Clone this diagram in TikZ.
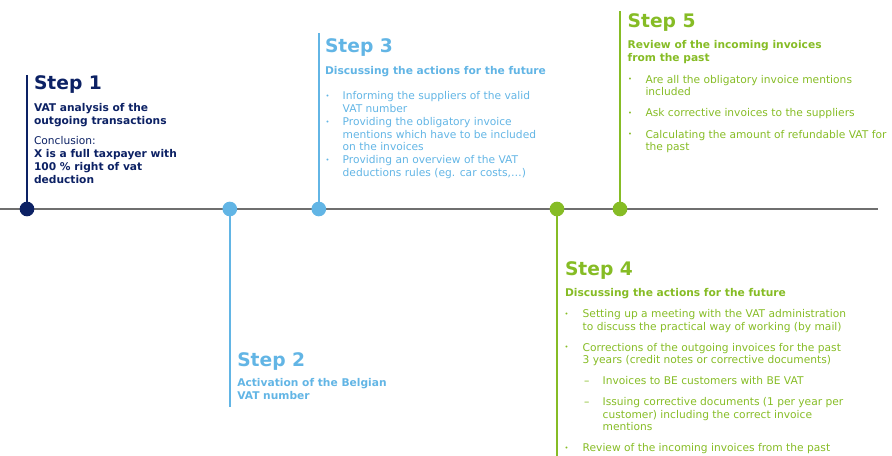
\documentclass[tikz,border=0pt]{standalone}
\usepackage{fontspec}
\setmainfont{DejaVu Sans}
\definecolor{navy}{HTML}{0C2164}
\definecolor{lblue}{HTML}{62B5E5}
\definecolor{vgreen}{HTML}{86BC25}
\definecolor{tlgray}{HTML}{6F6F6F}
\begin{document}
\begin{tikzpicture}[x=0.75pt,y=-0.75pt,
  every node/.style={inner sep=0pt,outer sep=0pt},
  ln/.style={anchor=base west,font=\fontsize{8}{9}\selectfont},
  lnb/.style={anchor=base west,font=\fontsize{8}{9}\selectfont\bfseries},
  head/.style={anchor=base west,font=\fontsize{14}{16}\selectfont\bfseries},
  bul/.style={anchor=center,font=\fontsize{5}{5}\selectfont},
  dotm/.style={circle,minimum size=11pt,fill=#1},
  stem/.style={draw=#1,line width=1.6pt},
  timeline/.style={draw=tlgray,line width=1.5pt}
]
\path[use as bounding box] (0,0) rectangle (892,456);

% timeline
\coordinate (tl0) at (0,209);
\coordinate (tl1) at (878,209);
\draw[timeline] (tl0) -- (tl1);

% dot positions and stem ends
\coordinate (c1) at (27,209);
\coordinate (c2) at (229.8,209);
\coordinate (c3) at (318.8,209);
\coordinate (c4) at (557,209);
\coordinate (c5) at (620,209);
\coordinate (e1) at (27,75);
\coordinate (e2) at (229.8,407);
\coordinate (e3) at (318.8,33);
\coordinate (e4) at (557,456);
\coordinate (e5) at (620,11.5);

\draw[stem=navy]   (e1) -- (c1);
\draw[stem=lblue]  (e2) -- (c2);
\draw[stem=lblue]  (e3) -- (c3);
\draw[stem=vgreen] (e4) -- (c4);
\draw[stem=vgreen] (e5) -- (c5);

\node[dotm=navy]   (d1) at (c1) {};
\node[dotm=lblue]  (d2) at (c2) {};
\node[dotm=lblue]  (d3) at (c3) {};
\node[dotm=vgreen] (d4) at (c4) {};
\node[dotm=vgreen] (d5) at (c5) {};

% Step 1
\begin{scope}[text=navy]
\node[head] (s1h) at (34,89.3) {Step 1};
\node[lnb] (s1a) at (34,112) {VAT analysis of the};
\node[lnb] (s1b) at (34,124.5) {outgoing transactions};
\node[ln]  (s1c) at (34,145) {Conclusion:};
\node[lnb] (s1d) at (34,157.7) {X is a full taxpayer with};
\node[lnb] (s1e) at (34,170.5) {100 \% right of vat};
\node[lnb] (s1f) at (34,183.3) {deduction};
\end{scope}

% Step 2
\begin{scope}[text=lblue]
\node[head] (s2h) at (237.3,366) {Step 2};
\node[lnb] (s2a) at (237.3,386.5) {Activation of the Belgian};
\node[lnb] (s2b) at (237.3,399.5) {VAT number};
\end{scope}

% Step 3
\begin{scope}[text=lblue]
\node[head] (s3h) at (325,52.5) {Step 3};
\node[lnb] (s3a) at (325,74.5) {Discussing the actions for the future};
\node[bul] (s3b1) at (327.5,96.5) {•};
\node[bul] (s3b2) at (327.5,122.5) {•};
\node[bul] (s3b3) at (327.5,160.8) {•};
\node[ln] (s3c) at (342.7,99.7) {Informing the suppliers of the valid};
\node[ln] (s3d) at (342.7,112.3) {VAT number};
\node[ln] (s3e) at (342.7,125.7) {Providing the obligatory invoice};
\node[ln] (s3f) at (342.7,138.3) {mentions which have to be included};
\node[ln] (s3g) at (342.7,151) {on the invoices};
\node[ln] (s3i) at (342.7,164) {Providing an overview of the VAT};
\node[ln] (s3j) at (342.7,176.7) {deductions rules (eg. car costs,…)};
\end{scope}

% Step 4
\begin{scope}[text=vgreen]
\node[head] (s4h) at (565,275.7) {Step 4};
\node[lnb] (s4a) at (565,296.7) {Discussing the actions for the future};
\node[bul] (s4b1) at (566.5,314.5) {•};
\node[bul] (s4b2) at (566.5,347.8) {•};
\node[bul] (s4b3) at (566.5,448.5) {•};
\node[ln] (s4c) at (582.7,317.7) {Setting up a meeting with the VAT administration};
\node[ln] (s4d) at (582.7,330.5) {to discuss the practical way of working (by mail)};
\node[ln] (s4e) at (582.7,351) {Corrections of the outgoing invoices for the past};
\node[ln] (s4f) at (582.7,363.5) {3 years (credit notes or corrective documents)};
\node[ln] (s4g) at (584,384.3) {–};
\node[ln] (s4i) at (602.7,384.3) {Invoices to BE customers with BE VAT};
\node[ln] (s4j) at (584,405.7) {–};
\node[ln] (s4k) at (602.7,405.7) {Issuing corrective documents (1 per year per};
\node[ln] (s4l) at (602.7,418.3) {customer) including the correct invoice};
\node[ln] (s4m) at (602.7,430.5) {mentions};
\node[ln] (s4n) at (582.7,451.7) {Review of the incoming invoices from the past};
\end{scope}

% Step 5
\begin{scope}[text=vgreen]
\node[head] (s5h) at (627.7,27.3) {Step 5};
\node[lnb] (s5a) at (627.7,48.3) {Review of the incoming invoices};
\node[lnb] (s5b) at (627.7,61.3) {from the past};
\node[bul] (s5b1) at (630,80.1) {•};
\node[bul] (s5b2) at (630,113.5) {•};
\node[bul] (s5b3) at (630,135.1) {•};
\node[ln] (s5c) at (645.5,83.3) {Are all the obligatory invoice mentions};
\node[ln] (s5d) at (645.5,95.8) {included};
\node[ln] (s5e) at (645.5,116.7) {Ask corrective invoices to the suppliers};
\node[ln] (s5f) at (645.5,138.3) {Calculating the amount of refundable VAT for};
\node[ln] (s5g) at (645.5,150.5) {the past};
\end{scope}
\end{tikzpicture}
\end{document}
